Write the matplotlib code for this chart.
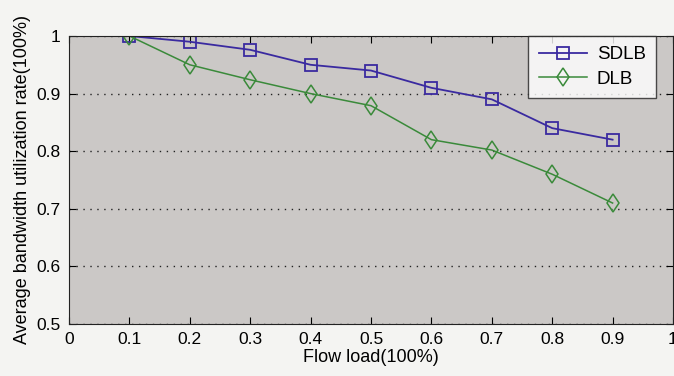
import numpy as np
import matplotlib
matplotlib.use('Agg')
import matplotlib.pyplot as plt

plt.rcParams['font.family'] = ['Liberation Sans', 'DejaVu Sans']

# Data
flow_load = [0.1, 0.2, 0.3, 0.4, 0.5, 0.6, 0.7, 0.8, 0.9]
sdlb = [1.0, 0.99, 0.976, 0.95, 0.94, 0.91, 0.89, 0.84, 0.82]
dlb = [1.0, 0.95, 0.924, 0.90, 0.879, 0.82, 0.802, 0.76, 0.71]
x_ticks = [0, 0.1, 0.2, 0.3, 0.4, 0.5, 0.6, 0.7, 0.8, 0.9, 1]
x_ticklabels = ['0', '0.1', '0.2', '0.3', '0.4', '0.5', '0.6', '0.7', '0.8', '0.9', '1']
y_ticks = [0.5, 0.6, 0.7, 0.8, 0.9, 1.0]
y_ticklabels = ['0.5', '0.6', '0.7', '0.8', '0.9', '1']

fig = plt.figure(figsize=(6.74, 3.76), dpi=100)
fig.patch.set_facecolor('#f4f4f2')
ax = fig.add_axes([0.1024, 0.1383, 0.8961, 0.766])
ax.set_facecolor('#cbc8c6')

ax.plot(flow_load, sdlb, color='#3a2aa0', marker='s', markersize=9,
        markerfacecolor='none', markeredgewidth=1.3, linewidth=1.3, label='SDLB')
ax.plot(flow_load, dlb, color='#3a8a3a', marker='d', markersize=9.5,
        markerfacecolor='none', markeredgewidth=1.1, linewidth=1.1, label='DLB')

ax.set_xlim(0, 1)
ax.set_ylim(0.5, 1)
ax.set_xticks(x_ticks)
ax.set_xticklabels(x_ticklabels)
ax.set_yticks(y_ticks)
ax.set_yticklabels(y_ticklabels)
ax.tick_params(direction='in', top=True, right=True, labelsize=12.5, length=5, pad=6)
ax.yaxis.grid(True, linestyle=(0, (1, 4)), color='#222222', linewidth=1.0)

for s in ax.spines.values():
    s.set_color('#222222')

ax.set_xlabel('Flow load(100%)', fontsize=13, labelpad=1)
ax.set_ylabel('Average bandwidth utilization rate(100%)', fontsize=13, labelpad=4)

leg = ax.legend(loc='upper right', bbox_to_anchor=(0.972, 1.0), borderaxespad=0,
                fontsize=13.5, frameon=True, fancybox=False, borderpad=0.55,
                handlelength=2.6, handletextpad=0.5, labelspacing=0.4)
leg.get_frame().set_edgecolor('#222222')
leg.get_frame().set_facecolor('white')
leg.get_frame().set_linewidth(1.0)

fig.savefig('out.png', dpi=100, facecolor=fig.get_facecolor())
